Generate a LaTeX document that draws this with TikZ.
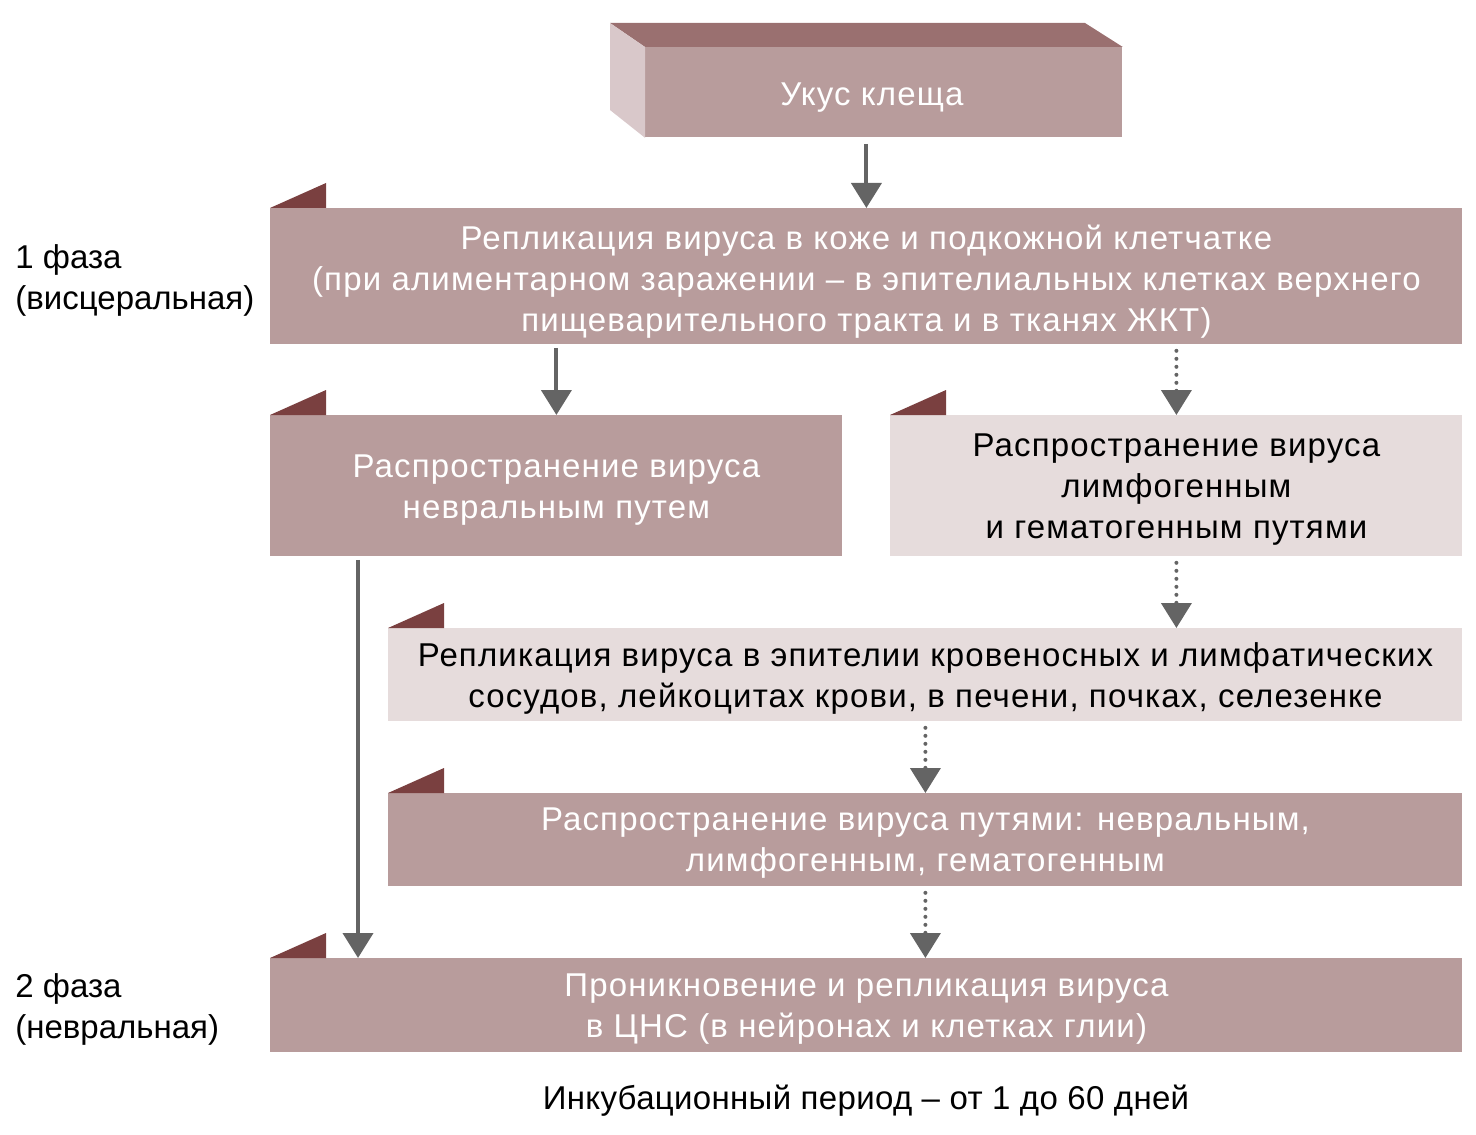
\documentclass[tikz,border=0pt]{standalone}
\usepackage{fontspec}
\setmainfont{Liberation Sans}
\newfontfamily\boxfont[LetterSpace=3.5]{Liberation Sans}
\newfontfamily\incfont[LetterSpace=1]{Liberation Sans}
\usetikzlibrary{arrows.meta}
\definecolor{midc}{HTML}{B89C9C}
\definecolor{litec}{HTML}{E6DCDC}
\definecolor{tabc}{HTML}{7A4040}
\definecolor{topc}{HTML}{9A7070}
\definecolor{sidec}{HTML}{D9C8CA}
\definecolor{arrc}{HTML}{646464}
\begin{document}
\begin{tikzpicture}[x=0.5pt,y=-0.5pt,
  font=\fontsize{16.5}{20.5}\selectfont,
  box/.style={inner sep=0pt, anchor=north west},
  midbox/.style={box, fill=midc},
  litebox/.style={box, fill=litec},
  wtxt/.style={inner sep=0pt, align=center, text=white, font=\boxfont\fontsize{16.5}{20.5}\selectfont},
  btxt/.style={wtxt, text=black},
  tabfill/.style={fill=tabc},
  solidarrow/.style={draw=arrc, line width=2pt, -{Triangle[width=15pt,length=12.5pt]}, arrc},
  dotarrow/.style={draw=arrc, line width=2pt, line cap=round, dash pattern=on 0pt off 4pt, -{Triangle[width=15pt,length=12.5pt]}, arrc},
  lbl/.style={inner sep=0pt, align=left, anchor=west}
]
\useasboundingbox (0,0) rectangle (1476,1134);

% top 3D box
\node[midbox, minimum width=238.5pt, minimum height=45pt] (b1) at (645,47) {};
\fill[topc] (b1.north west) -- ++(-35,-24) -- ++(475,0) -- (b1.north east) -- cycle;
\fill[sidec] (b1.north west) -- ++(-35,-24) -- ++(0,87) -- (b1.south west) -- cycle;
\node[wtxt] (t1) at ([xshift=-6pt,yshift=-2.5pt]b1.center) {Укус клеща};

\node[midbox, minimum width=596pt, minimum height=68pt] (b2) at (270,208) {};
\node[wtxt] (t2) at ([yshift=-2.5pt]b2.center)
  {Репликация вируса в коже и подкожной клетчатке\\(при алиментарном заражении – в эпителиальных клетках верхнего\\пищеварительного тракта и в тканях ЖКТ)};
\node[midbox, minimum width=286pt, minimum height=70.5pt] (b3) at (270,415) {};
\node[wtxt] (t3) at ([yshift=-2pt]b3.center)
  {Распространение вируса\\невральным путем};
\node[litebox, minimum width=286pt, minimum height=70.5pt] (b4) at (890,415) {};
\node[btxt] (t4) at ([yshift=-2pt]b4.center)
  {Распространение вируса\\лимфогенным\\и гематогенным путями};
\node[litebox, minimum width=537pt, minimum height=46.5pt] (b5) at (388,628) {};
\node[btxt] (t5) at ([yshift=-2pt]b5.center)
  {Репликация вируса в эпителии кровеносных и лимфатических\\сосудов, лейкоцитах крови, в печени, почках, селезенке};
\node[midbox, minimum width=537pt, minimum height=46.5pt] (b6) at (388,793) {};
\node[wtxt] (t6) at ([yshift=-1.5pt]b6.center)
  {Распространение вируса путями: невральным,\\лимфогенным, гематогенным};
\node[midbox, minimum width=596pt, minimum height=47pt] (b7) at (270,958) {};
\node[wtxt] (t7) at ([yshift=-2pt]b7.center)
  {Проникновение и репликация вируса\\в ЦНС (в нейронах и клетках глии)};

\foreach \b in {b2,b3,b4,b5,b6,b7}
  \fill[tabfill] (\b.north west) -- ++(56,-25) -- ++(0,25) -- cycle;

\node[lbl] (p1) at (15,280) {1 фаза\\(висцеральная)};
\node[lbl] (p2) at (15,1009) {2 фаза\\(невральная)};
\node[inner sep=0pt, font=\incfont\fontsize{16.5}{20.5}\selectfont] (inc) at (866,1101) {Инкубационный период – от 1 до 60 дней};

% arrows
\draw[solidarrow, shorten <=3pt] (b1.south -| b2.north) -- (b2.north);
\draw[solidarrow, shorten <=1.5pt] (b2.south -| b3.north) -- (b3.north);
\draw[dotarrow, shorten <=3pt] (b2.south -| b4.north) -- (b4.north);
\draw[dotarrow, shorten <=3pt] (b4.south) -- (b4.south |- b5.north);
\draw[dotarrow, shorten <=3pt] (b5.south) -- (b5.south |- b6.north);
\draw[dotarrow, shorten <=3pt] (b6.south) -- (b6.south |- b7.north);
\coordinate (c3) at ([xshift=44pt]b3.south west);
\draw[solidarrow, shorten <=1.5pt] (c3) -- (c3 |- b7.north);
\end{tikzpicture}
\end{document}
